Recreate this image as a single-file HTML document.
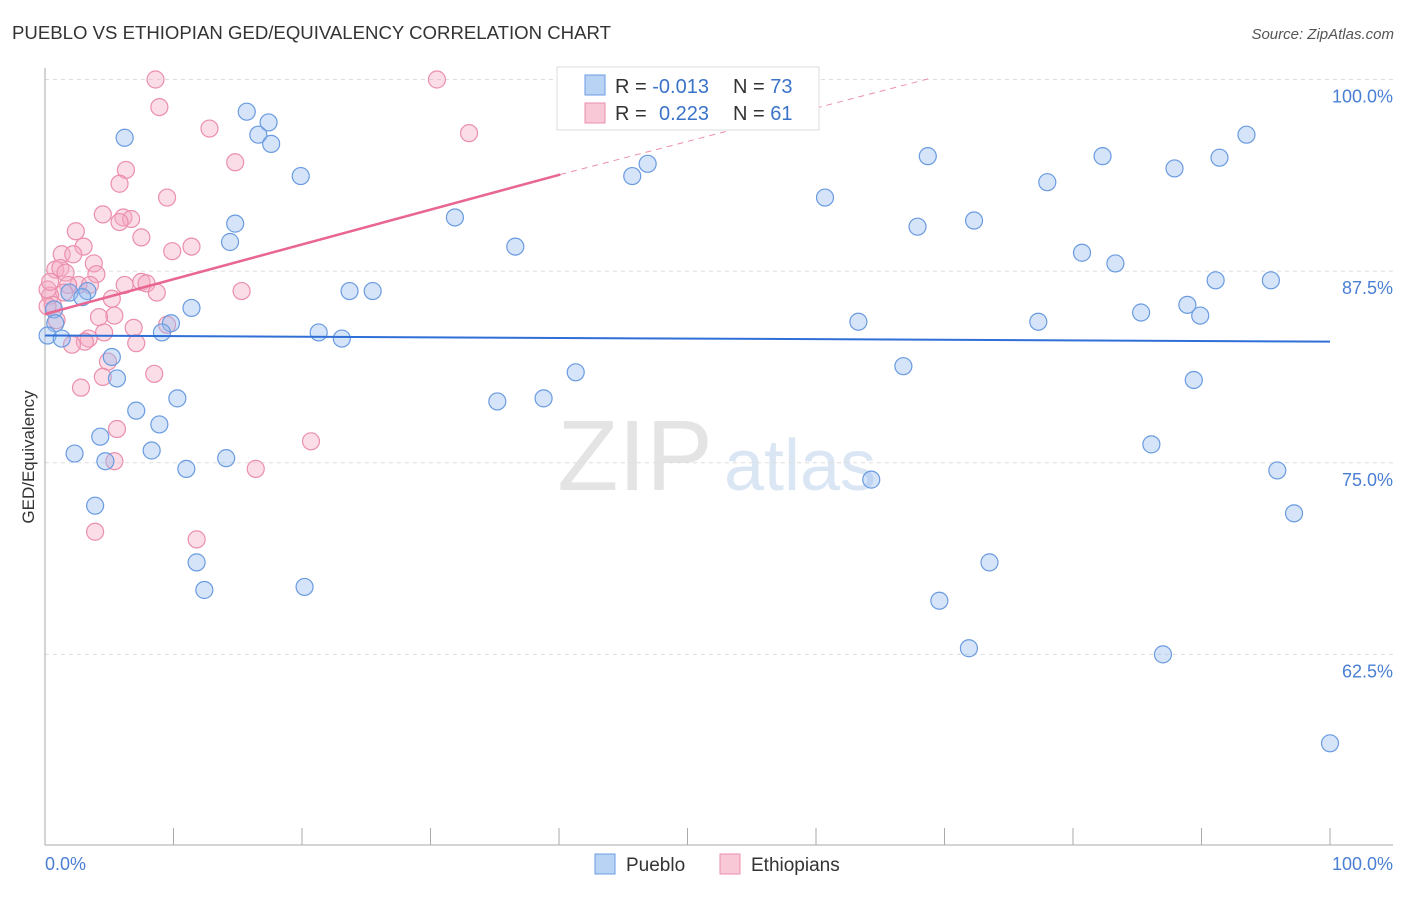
<!DOCTYPE html>
<html><head><meta charset="utf-8"><style>
body{margin:0;background:#fff;font-family:"Liberation Sans",sans-serif;}
svg text{font-family:"Liberation Sans",sans-serif;}
</style></head><body>
<svg id="chart" width="1406" height="892" viewBox="0 0 1406 892" xmlns="http://www.w3.org/2000/svg">
<text x="12" y="39" font-size="18.6" fill="#333">PUEBLO VS ETHIOPIAN GED/EQUIVALENCY CORRELATION CHART</text>
<text x="1394" y="39" font-size="15" fill="#555" font-style="italic" text-anchor="end">Source: ZipAtlas.com</text>
<g>
<text x="635" y="490" font-size="100" fill="#e4e4e4" text-anchor="middle" font-family="Liberation Serif,serif">ZIP</text>
<text x="800" y="490" font-size="72" fill="#dbe6f5" text-anchor="middle">atlas</text>
</g>
<g id="grid"></g>
<g id="axes"></g>
<g id="marks"></g>
<text transform="translate(34,457) rotate(-90)" font-size="17" fill="#333" text-anchor="middle">GED/Equivalency</text>
<text x="45" y="870" font-size="18" fill="#4a7fd4">0.0%</text>
<text x="1393" y="870" font-size="18" fill="#4a7fd4" text-anchor="end">100.0%</text>
<g>
<rect x="557" y="67" width="262" height="63" fill="#fff" stroke="#ddd"/>
<rect x="585" y="75" width="20" height="20" fill="#b9d3f5" stroke="#6a9be0"/>
<rect x="585" y="103" width="20" height="20" fill="#f9c8d6" stroke="#eb8fac"/>
<text x="615" y="93" font-size="20" fill="#333">R = <tspan fill="#3b73c9">-0.013</tspan></text>
<text x="733" y="93" font-size="20" fill="#333">N = <tspan fill="#3b73c9">73</tspan></text>
<text x="615" y="120" font-size="20" fill="#333">R = <tspan fill="#3b73c9" x="659">0.223</tspan></text>
<text x="733" y="120" font-size="20" fill="#333">N = <tspan fill="#3b73c9">61</tspan></text>
</g>
<g>
<rect x="595" y="854" width="20" height="20" fill="#b9d3f5" stroke="#6a9be0"/>
<text x="626" y="871" font-size="19" fill="#333">Pueblo</text>
<rect x="720" y="854" width="20" height="20" fill="#f9c8d6" stroke="#eb8fac"/>
<text x="751" y="871" font-size="19" fill="#333">Ethiopians</text>
</g>
</svg>
<script>
const yTicks=[100,87.5,75,62.5];
const yTickLabels=["100.0%","87.5%","75.0%","62.5%"];
const xTicks=[0,10,20,30,40,50,60,70,80,90,100];
const blueX=[42.3,15.7,6.2,16.6,17.4,17.6,93.5,68.7,82.3,91.4,46.9,45.7,87.9,19.9,78.0,60.7,14.8,31.9,67.9,72.3,14.4,36.6,80.7,83.3,91.1,95.4,3.3,1.9,2.9,23.7,25.5,11.4,88.9,85.3,89.9,0.7,0.8,9.8,63.3,77.3,9.1,21.3,23.1,0.2,1.3,5.2,66.8,41.3,5.6,89.4,35.2,38.8,10.3,7.1,8.9,4.3,8.3,86.1,2.3,4.7,14.1,11.0,64.3,95.9,3.9,97.2,11.8,73.5,12.4,20.2,69.6,71.9,87.0,100];
const blueY=[100,97.9,96.2,96.4,97.2,95.8,96.4,95.0,95.0,94.9,94.5,93.7,94.2,93.7,93.3,92.3,90.6,91.0,90.4,90.8,89.4,89.1,88.7,88.0,86.9,86.9,86.2,86.1,85.8,86.2,86.2,85.1,85.3,84.8,84.6,85.0,84.1,84.1,84.2,84.2,83.5,83.5,83.1,83.3,83.1,81.9,81.3,80.9,80.5,80.4,79.0,79.2,79.2,78.4,77.5,76.7,75.8,76.2,75.6,75.1,75.3,74.6,73.9,74.5,72.2,71.7,68.5,68.5,66.7,66.9,66.0,62.9,62.5,56.7];
const pinkX=[8.6,30.5,8.9,12.8,33.0,14.8,6.3,5.8,9.5,4.5,6.1,6.7,5.8,2.4,7.5,3.0,11.4,9.9,1.3,2.2,3.8,0.8,1.2,1.6,4.0,2.6,1.8,3.5,6.2,7.5,7.9,15.3,8.7,1.5,0.4,5.2,0.6,5.4,4.2,0.9,6.9,9.5,4.6,3.4,3.1,7.1,2.1,4.9,8.5,4.5,2.8,5.6,20.7,5.4,16.4,11.8,3.9,0.2,0.2,0.4];
const pinkY=[100,100,98.2,96.8,96.5,94.6,94.1,93.2,92.3,91.2,91.0,90.9,90.7,90.1,89.7,89.1,89.1,88.8,88.6,88.6,88.0,87.6,87.7,87.4,87.3,86.6,86.6,86.6,86.6,86.8,86.7,86.2,86.1,86.1,85.9,85.7,85.3,84.6,84.5,84.3,83.8,84.0,83.5,83.1,82.9,82.8,82.7,81.6,80.8,80.6,79.9,77.2,76.4,75.1,74.6,70.0,70.5,85.2,86.3,86.8];
const blueTrendX=[0,100];
const blueTrendY=[83.3,82.9];
const pinkTrendX=[0,40.1];
const pinkTrendY=[84.7,93.8];
const pinkDashX=[40.1,69];
const pinkDashY=[93.8,100.1];

const X0=45,X1=1330,YT=79.5,PX=15.33;
const sx=v=>X0+(X1-X0)*v/100;
const sy=v=>YT+(100-v)*PX;
const NS="http://www.w3.org/2000/svg";
function mk(tag,parent,attrs){const e=document.createElementNS(NS,tag);for(const k in attrs)e.setAttribute(k,attrs[k]);parent.appendChild(e);return e;}
const grid=document.getElementById('grid'),axes=document.getElementById('axes'),marks=document.getElementById('marks');
yTicks.forEach((t,i)=>{
  const l=mk('line',grid,{x1:45,x2:1393,y1:sy(t),y2:sy(t),stroke:'#ddd','stroke-dasharray':'4,4'});
  
  
  const tx=mk('text',axes,{x:1393,y:sy(t)+23,'font-size':18,fill:'#4a7fd4','text-anchor':'end'});
  tx.textContent=yTickLabels[i];
  
  
});
const ya=mk('line',axes,{x1:45,x2:45,y1:68,y2:845,stroke:'#aaa'});


const xa=mk('line',axes,{x1:45,x2:1393,y1:845,y2:845,stroke:'#aaa'});


xTicks.forEach(t=>{
  const k=mk('line',axes,{x1:sx(t),x2:sx(t),y1:828,y2:845,stroke:'#aaa'});
  
  
});
function dots(xs,ys,fill,stroke,name){
  xs.forEach((x,i)=>{
    const c=mk('circle',marks,{cx:sx(x),cy:sy(ys[i]),r:8.5,fill:fill,stroke:stroke,'stroke-width':1.2});
    
    
  });
}
dots(pinkX,pinkY,'rgba(246,170,195,0.4)','#eb8fac','ethiopians-point');
dots(blueX,blueY,'rgba(150,188,240,0.4)','#6a9be0','pueblo-point');
const bt=mk('line',marks,{x1:sx(blueTrendX[0]),y1:sy(blueTrendY[0]),x2:sx(blueTrendX[1]),y2:sy(blueTrendY[1]),stroke:'#2f6fd6','stroke-width':2});


const pt=mk('line',marks,{x1:sx(pinkTrendX[0]),y1:sy(pinkTrendY[0]),x2:sx(pinkTrendX[1]),y2:sy(pinkTrendY[1]),stroke:'#e8668f','stroke-width':2.5});


const pd=mk('line',marks,{x1:sx(pinkDashX[0]),y1:sy(pinkDashY[0]),x2:sx(pinkDashX[1]),y2:sy(pinkDashY[1]),stroke:'#eb8fac','stroke-width':1,'stroke-dasharray':'6,5'});


</script>
</body></html>
